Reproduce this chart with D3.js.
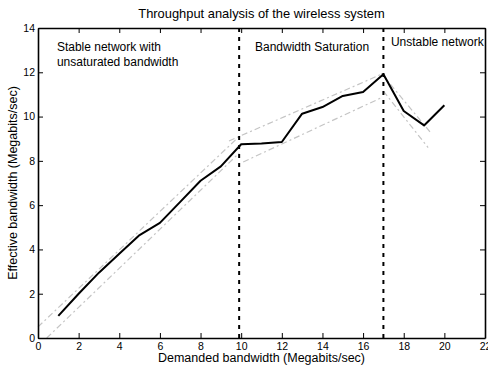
<!DOCTYPE html>
<html>
<head>
<meta charset="utf-8">
<script src="https://cdn.jsdelivr.net/npm/d3@7"></script>
<style>
  html, body { margin: 0; padding: 0; background: #fff; }
  svg { display: block; font-family: "Liberation Sans", Arial, sans-serif; }
</style>
</head>
<body>
<svg id="chart" width="488" height="365"></svg>
<script>
// Demanded bandwidth (Mb/s) and measured effective bandwidth (Mb/s)
const demanded = [1, 2, 3, 4, 5, 6, 7, 8, 9, 10, 11, 12, 13, 14, 15, 16, 17, 18, 19, 20];
const effective = [1.0, 2.0, 2.95, 3.8, 4.65, 5.2, 6.15, 7.1, 7.75, 8.75, 8.78, 8.85, 10.13, 10.43, 10.93, 11.11, 11.91, 10.25, 9.6, 10.51];

// Upper / lower trend bounds per regime: [x0, y0, x1, y1]
const boundSegments = [
  [0, 0.5, 9.9, 9.1],
  [0.43, 0, 9.9, 8.35],
  [9.4, 8.9, 17.0, 11.95],
  [10.1, 7.95, 16.9, 10.85],
  [16.9, 11.95, 19.3, 9.3],
  [17.0, 11.15, 19.2, 8.6]
];

// Regime boundaries (Mb/s)
const boundaries = [9.9, 17.0];

// Regime labels: [x, y, lines]
const regionLabels = [
  { x: 0.93, y: 12.95, lines: ["Stable network with", "unsaturated bandwidth"] },
  { x: 10.68, y: 12.95, lines: ["Bandwidth Saturation"] },
  { x: 17.37, y: 13.2, lines: ["Unstable network"] }
];

const xTicks = [0, 2, 4, 6, 8, 10, 12, 14, 16, 18, 20, 22];
const yTicks = [0, 2, 4, 6, 8, 10, 12, 14];

const titleText = "Throughput analysis of the wireless system";
const xLabel = "Demanded bandwidth (Megabits/sec)";
const yLabel = "Effective bandwidth (Megabits/sec)";

const svg = d3.select("#chart");
const margin = { left: 38, right: 3, top: 28, bottom: 27 };
const W = 488, H = 365;

const x = d3.scaleLinear().domain([0, 22]).range([margin.left, W - margin.right]);
const y = d3.scaleLinear().domain([0, 14]).range([H - margin.bottom, margin.top]);

const plot = svg.append("g");

// Trend bounds (light grey dash-dot)
plot.selectAll("line.bound")
  .data(boundSegments)
  .join("line")
  .attr("class", "bound")
  .attr("x1", d => x(d[0])).attr("y1", d => y(d[1]))
  .attr("x2", d => x(d[2])).attr("y2", d => y(d[3]))
  .attr("stroke", "#c4c4c4")
  .attr("stroke-width", 1.2)
  .attr("stroke-dasharray", "6,3,2,3");

// Regime boundaries
plot.selectAll("line.boundary")
  .data(boundaries)
  .join("line")
  .attr("class", "boundary")
  .attr("x1", d => x(d)).attr("x2", d => x(d))
  .attr("y1", y(14)).attr("y2", y(0))
  .attr("stroke", "#000")
  .attr("stroke-width", 2)
  .attr("stroke-dasharray", "4,5");

// Measured throughput
const line = d3.line().x((d, i) => x(demanded[i])).y(d => y(d));
plot.append("path")
  .datum(effective)
  .attr("d", line)
  .attr("fill", "none")
  .attr("stroke", "#000")
  .attr("stroke-width", 2)
  .attr("stroke-linejoin", "round");

// Axes with inward ticks on all four sides
const tickLen = 5;
function styleAxis(g, keepLabels) {
  g.select(".domain").attr("stroke", "#000").attr("stroke-width", 1.6);
  g.selectAll(".tick line").attr("stroke", "#000").attr("stroke-width", 1);
  g.selectAll(".tick text")
    .attr("font-size", 10.5)
    .attr("font-family", "Liberation Sans, Arial, sans-serif")
    .attr("fill", "#000");
  if (!keepLabels) g.selectAll(".tick text").remove();
}

const xBottom = svg.append("g").attr("transform", `translate(0,${y(0)})`)
  .call(d3.axisBottom(x).tickValues(xTicks).tickSizeInner(-tickLen).tickSizeOuter(0));
styleAxis(xBottom, true);
xBottom.selectAll(".tick text").attr("y", 5).attr("dy", "0.71em");

const xTop = svg.append("g").attr("transform", `translate(0,${y(14)})`)
  .call(d3.axisTop(x).tickValues(xTicks).tickSizeInner(-tickLen).tickSizeOuter(0));
styleAxis(xTop, false);

const yLeft = svg.append("g").attr("transform", `translate(${x(0)},0)`)
  .call(d3.axisLeft(y).tickValues(yTicks).tickSizeInner(-tickLen).tickSizeOuter(0));
styleAxis(yLeft, true);
yLeft.selectAll(".tick text").attr("x", -3);

const yRight = svg.append("g").attr("transform", `translate(${x(22)},0)`)
  .call(d3.axisRight(y).tickValues(yTicks).tickSizeInner(-tickLen).tickSizeOuter(0));
styleAxis(yRight, false);

// Regime labels
regionLabels.forEach(r => {
  const t = svg.append("text")
    .attr("x", x(r.x)).attr("y", y(r.y))
    .attr("font-size", 12).attr("fill", "#000");
  r.lines.forEach((s, i) => {
    t.append("tspan").attr("x", x(r.x)).attr("dy", i === 0 ? 0 : 14.5).text(s);
  });
});

// Title and axis labels
svg.append("text")
  .attr("x", (x(0) + x(22)) / 2).attr("y", 18)
  .attr("text-anchor", "middle").attr("font-size", 12.9)
  .text(titleText);

svg.append("text")
  .attr("x", (x(0) + x(22)) / 2).attr("y", 362)
  .attr("text-anchor", "middle").attr("font-size", 12.5)
  .text(xLabel);

svg.append("text")
  .attr("transform", `translate(16.5,${(y(0) + y(14)) / 2}) rotate(-90)`)
  .attr("text-anchor", "middle").attr("font-size", 12.5)
  .text(yLabel);
</script>
</body>
</html>
